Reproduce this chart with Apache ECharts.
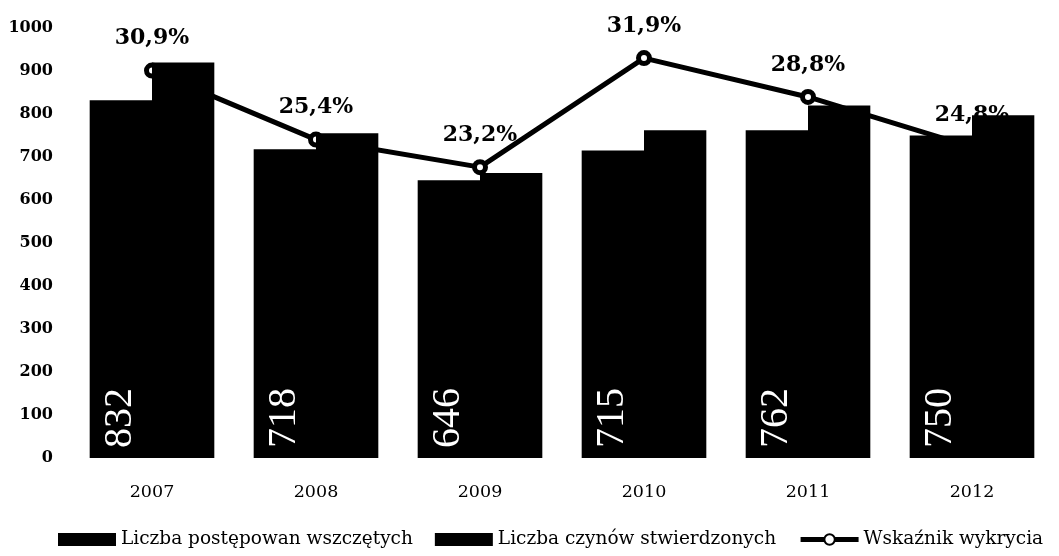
<!DOCTYPE html>
<html>
<head>
<meta charset="utf-8">
<script src="https://cdn.jsdelivr.net/npm/echarts@6/dist/echarts.min.js"></script>
<style>html,body{margin:0;padding:0;background:#fff;}#c{width:1059px;height:556px;}</style>
</head>
<body>
<div id="c"></div>
<script>
var categories = ['2007', '2008', '2009', '2010', '2011', '2012'];
var seriesNames = ['Liczba postępowan wszczętych', 'Liczba czynów stwierdzonych', 'Wskaźnik wykrycia'];
var postepowania = [832, 718, 646, 715, 762, 750];
var czyny = [920, 755, 663, 762, 820, 797];
var wskaznik = [30.9, 25.4, 23.2, 31.9, 28.8, 24.8];
var yTicks = [0, 100, 200, 300, 400, 500, 600, 700, 800, 900, 1000];

var chart = echarts.init(document.getElementById('c'));
chart.setOption({
  animation: false,
  backgroundColor: '#fff',
  grid: { left: 70, right: 5, top: 28, bottom: 98 },
  legend: {
    bottom: 2,
    left: 53,
    itemWidth: 58,
    itemHeight: 13,
    itemGap: 22,
    textStyle: { fontFamily: 'DejaVu Serif', fontSize: 18.5, color: '#000' },
    data: [
      { name: seriesNames[0], icon: 'rect' },
      { name: seriesNames[1], icon: 'rect' },
      { name: seriesNames[2], lineStyle: { width: 5, color: '#000' } }
    ]
  },
  xAxis: {
    type: 'category',
    data: categories,
    axisLine: { show: false },
    axisTick: { show: false },
    axisLabel: { margin: 25, fontFamily: 'DejaVu Serif', fontSize: 17.5, color: '#000' }
  },
  yAxis: [{
    type: 'value',
    min: yTicks[0],
    max: yTicks[yTicks.length - 1],
    interval: 100,
    axisLine: { show: false },
    axisTick: { show: false },
    splitLine: { show: false },
    axisLabel: {
      margin: 17, fontFamily: 'DejaVu Serif', fontWeight: 'bold', fontSize: 16, color: '#000',
      formatter: function (v) { return String(v); }
    }
  }, {
    type: 'value',
    min: 0,
    max: 34.3,
    show: false,
    splitLine: { show: false }
  }],
  series: [{
    name: seriesNames[0],
    type: 'bar',
    z: 3,
    data: postepowania,
    barGap: '0%',
    barCategoryGap: '24%',
    itemStyle: { color: '#000' },
    label: {
      show: true,
      position: 'insideBottom',
      rotate: 90,
      align: 'left',
      verticalAlign: 'middle',
      distance: 10,
      fontFamily: 'Liberation Serif',
      fontSize: 40,
      color: '#fff'
    }
  }, {
    name: seriesNames[1],
    type: 'bar',
    z: 3,
    data: czyny,
    barGap: '0%',
    barCategoryGap: '24%',
    itemStyle: { color: '#000' }
  }, {
    name: seriesNames[2],
    type: 'line',
    yAxisIndex: 1,
    z: 2,
    data: wskaznik,
    symbol: 'circle',
    symbolSize: 11,
    lineStyle: { color: '#000', width: 5 },
    itemStyle: { color: '#fff', borderColor: '#000', borderWidth: 5 },
    label: {
      show: true,
      position: 'top',
      distance: 13,
      fontFamily: 'DejaVu Serif',
      fontWeight: 'bold',
      fontSize: 22,
      color: '#000',
      formatter: function (p) { return p.value.toFixed(1).replace('.', ',') + '%'; }
    }
  }]
});
</script>
</body>
</html>
